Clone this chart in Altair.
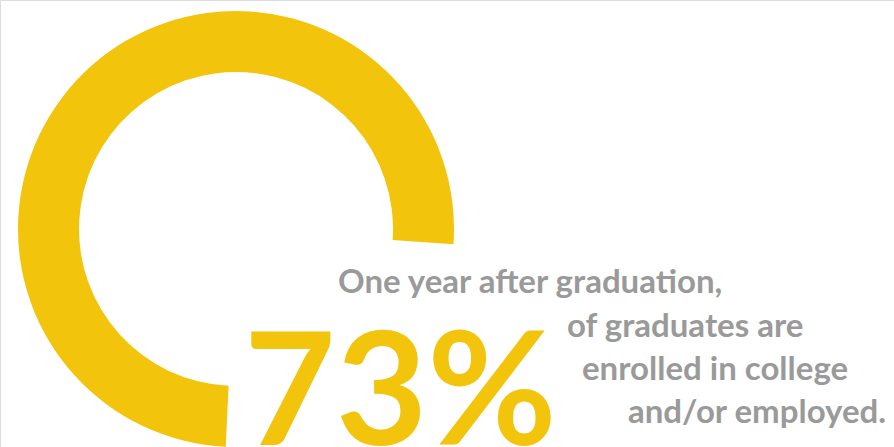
import altair as alt
import pandas as pd
import math

# Data
share_value = [73]
share_label = ["73%"]
caption_lines = [
    "One year after graduation,",
    "of graduates are",
    "enrolled in college",
    "and/or employed.",
]
caption_x = [338, 567, 582, 628]
caption_y = [293, 337, 380, 423]

YELLOW = "#F2C40C"
GREY = "#9A9A9A"

W, H = 894, 447
CX, CY = 236, 229

arc_df = pd.DataFrame({"value": share_value})
arc = alt.Chart(arc_df).mark_arc(radius=218, radius2=157, color=YELLOW).encode(
    theta=alt.Theta("value:Q", scale=alt.Scale(domain=[0, 73], range=[math.radians(182.7), math.radians(454)])),
    x=alt.value(CX),
    y=alt.value(CY),
)

big_df = pd.DataFrame({"t": share_label})
big = alt.Chart(big_df).mark_text(
    font="Lato", fontSize=158, fontWeight="bold", color=YELLOW, align="left", baseline="alphabetic"
).encode(text="t:N", x=alt.value(244), y=alt.value(445))

cap_df = pd.DataFrame({"t": caption_lines, "x": caption_x, "y": caption_y})
cap = alt.Chart(cap_df).mark_text(
    font="Lato", fontSize=33, fontWeight="bold", color=GREY, align="left", baseline="alphabetic"
).encode(
    text="t:N",
    x=alt.X("x:Q", scale=alt.Scale(domain=[0, W], range=[0, W]), axis=None),
    y=alt.Y("y:Q", scale=alt.Scale(domain=[0, H], range=[0, H]), axis=None),
)

chart = alt.layer(arc, big, cap).properties(
    width=W, height=H, padding=0, autosize=alt.AutoSizeParams(type="none")
).configure_view(stroke=None).configure(background="white")

chart.save("out.html", embed_options={"renderer": "svg", "actions": False})
